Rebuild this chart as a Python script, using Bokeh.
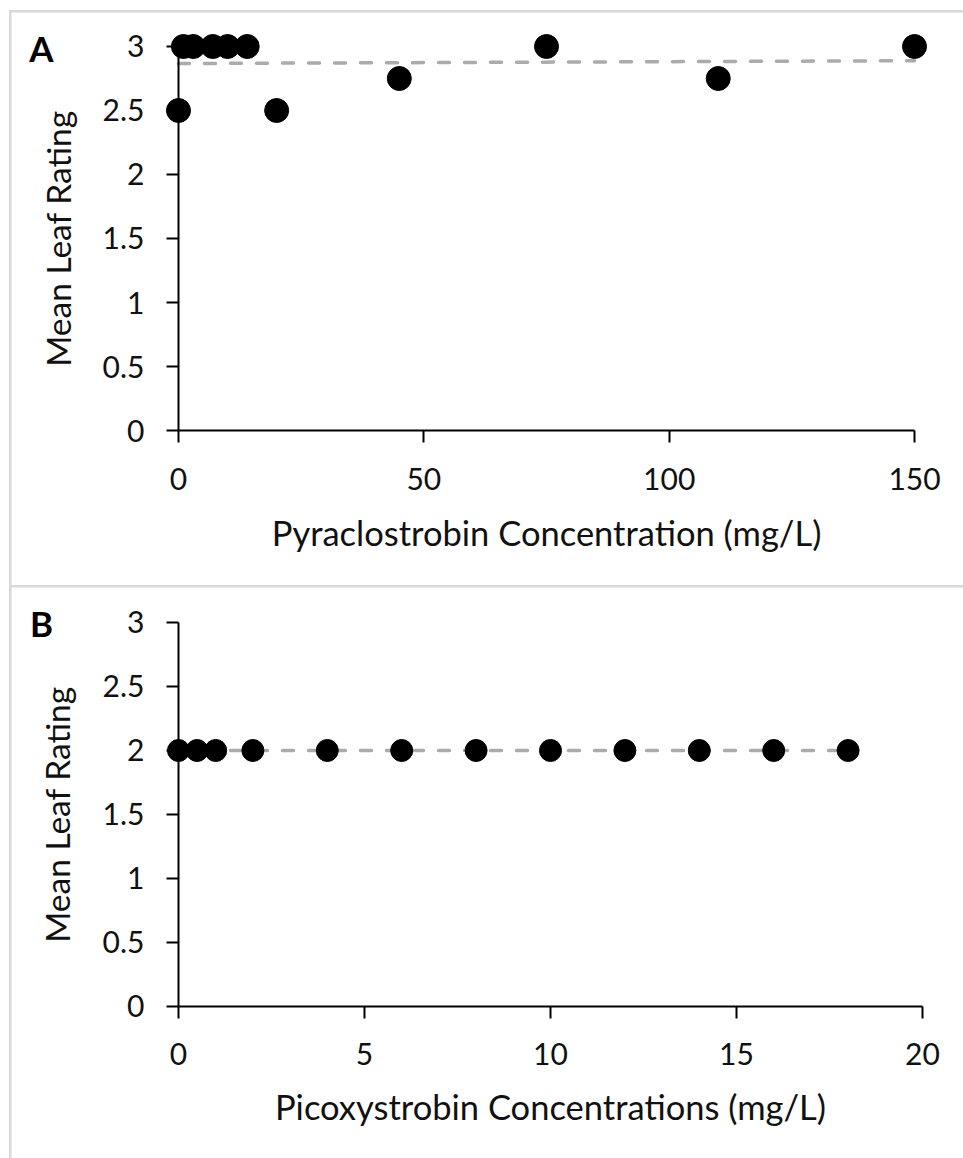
from bokeh.plotting import figure
from bokeh.layouts import column
from bokeh.models import FixedTicker, NumeralTickFormatter, Label
from bokeh.embed import file_html
from bokeh.resources import INLINE

# ---------------- data ----------------
# Panel A: Pyraclostrobin
pyra_conc = [0, 1, 3, 7, 10, 14, 20, 45, 75, 110, 150]
pyra_rating = [2.5, 3, 3, 3, 3, 3, 2.5, 2.75, 3, 2.75, 3]
pyra_trend_x = [0, 150]
pyra_trend_y = [2.867, 2.889]

# Panel B: Picoxystrobin
pico_conc = [0, 0.5, 1, 2, 4, 6, 8, 10, 12, 14, 16, 18]
pico_rating = [2, 2, 2, 2, 2, 2, 2, 2, 2, 2, 2, 2]
pico_trend_x = [0, 18]
pico_trend_y = [2.0, 2.0]

y_ticks = [0, 0.5, 1, 1.5, 2, 2.5, 3]
x_ticks_a = [0, 50, 100, 150]
x_ticks_b = [0, 5, 10, 15, 20]

FONT = "Lato"
TXT = "#111111"
TREND = "#ababab"


def make_panel(xs, ys, tx, ty, xticks, x_range, y_range, height,
               xlabel, xlabel_pos, ylabel_pos, letter, letter_pos, msize):
    p = figure(width=952, height=height, x_range=x_range, y_range=y_range,
               output_backend="svg", toolbar_location=None,
               min_border=0, min_border_left=0, min_border_right=0,
               min_border_top=0, min_border_bottom=0,
               margin=(2, 0, 0, 2))
    p.outline_line_color = None
    p.grid.visible = False
    p.background_fill_color = "white"
    p.border_fill_color = "white"

    for ax in (p.xaxis[0], p.yaxis[0]):
        ax.fixed_location = 0
        ax.axis_line_color = "black"
        ax.axis_line_width = 2
        ax.major_tick_line_color = "black"
        ax.major_tick_line_width = 2
        ax.major_tick_in = 0
        ax.major_tick_out = 12
        ax.minor_tick_line_color = None
        ax.major_label_text_font = FONT
        ax.major_label_text_font_size = "30px"
        ax.major_label_text_color = TXT

    p.xaxis.ticker = FixedTicker(ticks=xticks)
    p.xaxis.bounds = (xticks[0], xticks[-1])
    p.xaxis.major_label_standoff = 25

    p.yaxis.ticker = FixedTicker(ticks=y_ticks)
    p.yaxis.bounds = (y_ticks[0], y_ticks[-1])
    p.yaxis.formatter = NumeralTickFormatter(format="0.[0]")
    p.yaxis.major_label_standoff = 22

    # trend line
    p.line(x=tx, y=ty, line_color=TREND, line_width=3.5,
           line_dash="11 15", line_cap="round")

    # points
    p.scatter(x=xs, y=ys, marker="circle", size=msize,
              fill_color="black", line_color="black")

    # axis titles
    p.add_layout(Label(x=xlabel_pos[0], y=xlabel_pos[1], text=xlabel,
                       text_font=FONT, text_font_size="34.5px",
                       text_color=TXT, text_align="center",
                       text_baseline="middle"))
    p.add_layout(Label(x=ylabel_pos[0], y=ylabel_pos[1],
                       text="Mean Leaf Rating", angle=90, angle_units="deg",
                       text_font=FONT, text_font_size="33.5px",
                       text_color=TXT, text_align="center",
                       text_baseline="middle"))
    # panel letter
    p.add_layout(Label(x=letter_pos[0], y=letter_pos[1], text=letter,
                       text_font=FONT, text_font_size="35px",
                       text_font_style="bold", text_color="black",
                       text_align="center", text_baseline="middle"))
    return p


pA = make_panel(pyra_conc, pyra_rating, pyra_trend_x, pyra_trend_y,
                x_ticks_a, (-34.035, 159.98), (-1.2109, 3.2656), 573,
                "Pyraclostrobin Concentration (mg/L)", (75, -0.80),
                (-24.66, 1.5), "A", (-27.92, 2.985), 24)

pB = make_panel(pico_conc, pico_rating, pico_trend_x, pico_trend_y,
                x_ticks_b, (-4.489, 21.102), (-1.1875, 3.2734), 571,
                "Picoxystrobin Concentrations (mg/L)", (10, -0.785),
                (-3.253, 1.5), "B", (-3.683, 2.995), 22)

layout = column(pA, pB, margin=(10, 0, 0, 9),
                styles={"background-color": "#d9d9d9"})

open("out.html", "w").write(file_html(layout, INLINE))
